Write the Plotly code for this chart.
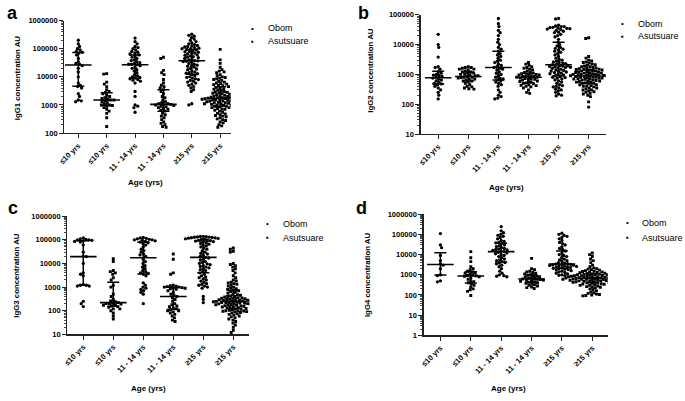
import numpy as np
import plotly.graph_objects as go

W, H = 685, 401

categories = ["≤10 yrs", "≤10 yrs", "11 - 14 yrs", "11 - 14 yrs", "≥15 yrs", "≥15 yrs"]
sites = ["Obom", "Asutsuare", "Obom", "Asutsuare", "Obom", "Asutsuare"]
legend_names = ["Obom", "Asutsuare"]

# ---------------- IgG1 ----------------
a1 = [200000, 150000, 120000, 100000, 90000, 80000, 75000, 70000, 60000, 45000, 35000, 30000, 28000,
      25000, 20000, 15000, 10000, 6000, 5000, 4500, 4000, 2500, 2000, 1500, 1400, 1300]
a2 = [13000, 12500, 6500, 5500, 4500, 3500, 3000, 2800, 2500, 2200, 2000, 1800, 1700, 1600, 1500, 1500,
      1400, 1300, 1200, 1100, 1000, 1000, 950, 900, 800, 700, 600, 500, 350, 170]
a3 = [240000, 180000, 150000, 120000, 110000, 100000, 90000, 80000, 75000, 70000, 65000, 60000, 55000,
      50000, 45000, 40000, 38000, 35000, 32000, 30000, 28000, 28000, 27000, 25000, 22000, 20000, 18000,
      16000, 14000, 12000, 11000, 10000, 9500, 9000, 8500, 8000, 7500, 7000, 6000, 3000, 2000, 1000, 900,
      800, 550]
a4 = [50000, 45000, 17000, 14000, 12000, 8000, 6000, 5000, 4500, 4000, 3500, 3000, 2500, 2000, 1800, 1500,
      1300, 1200, 1100, 1100, 1050, 1000, 1000, 950, 900, 850, 800, 750, 700, 650, 600, 500, 450, 400, 350,
      300, 250, 220, 200, 170, 160]
a5 = [330000, 300000, 280000, 250000, 220000, 200000, 180000, 160000, 150000, 140000, 130000, 125000,
      120000, 115000, 110000, 105000, 100000, 100000, 95000, 90000, 85000, 80000, 78000, 75000, 70000,
      68000, 65000, 60000, 58000, 55000, 52000, 50000, 48000, 45000, 42000, 40000, 38000, 37000, 36000,
      35000, 33000, 30000, 28000, 26000, 25000, 24000, 22000, 20000, 19000, 18000, 16000, 15000, 14000,
      13500, 13000, 12000, 11000, 10000, 9500, 9000, 8500, 8000, 7500, 7000, 6500, 6000, 5500, 5000, 4500,
      4000, 3500, 3000, 1100, 1000]
a6 = [95000, 40000, 30000, 22000, 18000, 16000, 15000, 14000, 12000, 11000, 10000, 9500, 9000, 8500, 8000,
      7500, 7000, 6500, 6000, 5800, 5500, 5300, 5000, 4800, 4500, 4200, 4000, 3800, 3600, 3400, 3200, 3000,
      2900, 2800, 2700, 2600, 2500, 2400, 2300, 2200, 2100, 2000, 2000, 1900, 1900, 1800, 1800, 1750, 1700,
      1700, 1650, 1600, 1600, 1550, 1500, 1500, 1450, 1400, 1400, 1350, 1300, 1300, 1250, 1200, 1200, 1150,
      1100, 1100, 1050, 1000, 1000, 950, 900, 900, 850, 800, 800, 750, 700, 700, 650, 600, 550, 500, 480,
      450, 420, 400, 380, 350, 320, 300, 280, 250, 230, 200, 180, 160]

# ---------------- IgG2 ----------------
b1 = [22000, 10000, 8000, 3800, 1800, 1700, 1500, 1200, 1100, 1000, 950, 900, 850, 800, 750, 700, 650, 600,
      550, 500, 480, 450, 400, 350, 300, 250, 200, 150]
b2 = [1800, 1700, 1700, 1600, 1500, 1500, 1400, 1300, 1200, 1200, 1100, 1100, 1000, 1000, 950, 900, 900,
      850, 800, 800, 780, 750, 700, 700, 650, 600, 600, 550, 500, 450, 400, 380, 350, 330, 320]
b3 = [75000, 50000, 40000, 30000, 25000, 20000, 15000, 12000, 10000, 8000, 7000, 6000, 5000, 4500, 4000,
      3500, 3000, 2800, 2500, 2200, 2000, 1800, 1700, 1600, 1500, 1400, 1200, 1100, 1000, 900, 800, 750, 700,
      650, 600, 550, 500, 450, 400, 300, 250, 200, 180, 160, 150]
b4 = [2500, 2200, 2000, 1800, 1700, 1600, 1500, 1400, 1300, 1200, 1150, 1100, 1050, 1000, 1000, 950, 950,
      900, 900, 850, 850, 800, 800, 780, 750, 720, 700, 680, 650, 620, 600, 580, 550, 520, 500, 480, 450, 430,
      420, 400, 380, 350, 300, 250, 230]
b5 = [75000, 72000, 45000, 42000, 40000, 40000, 38000, 37000, 36000, 35000, 34000, 33000, 32000, 30000,
      28000, 26000, 25000, 22000, 20000, 18000, 15000, 12000, 10000, 9000, 8000, 7500, 7000, 6500, 6000,
      5500, 5000, 4500, 4000, 3500, 3200, 3000, 2800, 2600, 2500, 2400, 2300, 2200, 2100, 2000, 1950, 1900,
      1850, 1800, 1750, 1700, 1650, 1600, 1500, 1400, 1350, 1300, 1250, 1200, 1150, 1100, 1050, 1000, 950,
      900, 850, 800, 780, 750, 700, 650, 600, 550, 500, 450, 420, 400, 380, 350, 320, 300, 280, 250, 220,
      200, 190]
b6 = [17000, 16000, 4000, 3500, 3000, 2800, 2600, 2500, 2400, 2200, 2100, 2000, 1900, 1800, 1800, 1700,
      1650, 1600, 1550, 1500, 1500, 1450, 1400, 1400, 1350, 1300, 1300, 1250, 1200, 1200, 1150, 1100, 1100,
      1100, 1050, 1000, 1000, 1000, 980, 950, 950, 920, 900, 900, 880, 850, 850, 820, 800, 800, 780, 750,
      750, 720, 700, 700, 680, 650, 650, 620, 600, 600, 580, 550, 550, 520, 500, 500, 480, 450, 450, 420,
      400, 400, 380, 350, 350, 320, 300, 300, 280, 260, 250, 230, 220, 200, 180, 120, 80]

# ---------------- IgG3 ----------------
c1 = [120000, 110000, 105000, 100000, 100000, 95000, 90000, 85000, 80000, 60000, 30000, 20000, 19500,
      10000, 4000, 3500, 3000, 1300, 1200, 1200, 1100, 1100, 250, 200, 150]
c2 = [16000, 12000, 5000, 4500, 4000, 3500, 2500, 2000, 1200, 1000, 500, 400, 300, 260, 240, 220, 210, 200,
      200, 190, 180, 170, 160, 150, 140, 120, 120, 100, 80, 60, 45]
c3 = [125000, 120000, 115000, 110000, 105000, 100000, 100000, 95000, 90000, 85000, 80000,
      75000, 70000, 60000, 50000, 40000, 35000, 30000, 25000, 23000, 20000, 15000, 12000, 10000, 8000, 7000,
      6000, 5000, 4500, 4000, 3800, 3500, 3000, 1500, 1200, 1000, 900, 800, 700, 600, 500, 200]
c4 = [25000, 15000, 4000, 3500, 1200, 1150, 1100, 1050, 1000, 1000, 950, 900, 900, 850, 800, 700, 600, 500,
      450, 400, 350, 300, 250, 200, 180, 160, 150, 130, 120, 110, 100, 100, 90, 80, 70, 60, 50, 40, 35]
c5 = [140000, 138000, 135000, 132000, 130000, 128000, 125000, 122000, 120000, 117000, 114000, 110000,
      107000, 104000, 100000, 96000, 92000, 88000, 84000, 80000, 75000, 70000, 65000, 60000, 55000, 50000,
      45000, 40000, 35000, 30000, 27000, 25000, 22000, 20000, 18000, 17000, 15000, 14000, 12000, 11000,
      10000, 9500, 9000, 8000, 7500, 7000, 6500, 6000, 5500, 5000, 4500, 4000, 3500, 3000, 2700, 2500, 2200,
      2000, 1800, 1600, 1400, 1300, 1200, 1100, 1000, 900, 400, 300, 220]
c6 = [45000, 40000, 33000, 30000, 10000, 9000, 8000, 7000, 6000, 5000, 4000, 3000, 2500, 2000, 1800, 1600,
      1500, 1400, 1300, 1200, 1100, 1000, 900, 850, 800, 750, 700, 650, 600, 550, 500, 480, 450, 420, 400,
      400, 380, 360, 350, 340, 330, 320, 310, 300, 300, 290, 280, 280, 270, 260, 260, 250, 250, 240, 240,
      230, 230, 220, 220, 210, 210, 200, 200, 195, 190, 185, 180, 175, 170, 165, 160, 155, 150, 145, 140,
      135, 130, 125, 120, 115, 110, 105, 100, 100, 98, 95, 92, 90, 85, 80, 75, 70, 65, 60, 55, 50, 45, 40,
      35, 30, 25, 20, 15, 12]

# ---------------- IgG4 ----------------
d1 = [110000, 30000, 22000, 9000, 5000, 3500, 3000, 2000, 1000, 900, 500, 450]
d2 = [14000, 7000, 4500, 2500, 2000, 1800, 1500, 1400, 1300, 1200, 1100, 1000, 950, 900, 850, 800, 700, 600,
      500, 450, 400, 350, 300, 250, 200, 180, 150, 95]
d3 = [240000, 150000, 120000, 100000, 90000, 80000, 70000, 60000, 50000, 45000, 40000, 38000, 35000, 30000,
      28000, 25000, 22000, 20000, 19000, 18000, 17000, 16000, 15000, 14000, 13000, 12000, 11000, 10000, 9000,
      8000, 7000, 6000, 5500, 5000, 4500, 4000, 3800, 3500, 3000, 2500, 2000, 1500, 1200, 1000, 900, 850, 800]
d4 = [6500, 2000, 1800, 1500, 1400, 1300, 1200, 1100, 1000, 950, 900, 850, 800, 750, 700, 680, 650, 620, 600,
      580, 550, 530, 500, 480, 450, 430, 400, 380, 350, 320, 300, 280, 250, 230, 210]
d5 = [115000, 100000, 90000, 80000, 70000, 60000, 50000, 40000, 35000, 30000, 25000, 20000, 18000, 15000,
      12000, 10000, 9000, 8000, 7000, 6000, 5500, 5000, 4500, 4000, 3800, 3600, 3400, 3300, 3200, 3100, 3000,
      2900, 2800, 2700, 2600, 2500, 2400, 2300, 2200, 2100, 2000, 1900, 1800, 1700, 1600, 1500, 1400, 1300,
      1200, 1100, 1000, 950, 900]
d6 = [12000, 10000, 8000, 6000, 5000, 4000, 3000, 2500, 2200, 2000, 1900, 1800, 1700, 1600, 1500, 1450,
      1400, 1350, 1300, 1250, 1200, 1150, 1100, 1100, 1050, 1000, 1000, 980, 950, 920, 900, 900, 880, 850,
      850, 820, 800, 800, 780, 760, 750, 740, 720, 700, 700, 690, 680, 660, 650, 650, 640, 620, 600, 600,
      590, 580, 560, 550, 550, 540, 520, 500, 500, 480, 470, 450, 450, 430, 420, 400, 400, 380, 360, 350,
      340, 320, 300, 300, 280, 260, 250, 240, 220, 200, 180, 160, 140, 130, 120, 110, 105, 100, 95, 90]

panels = [
    dict(groups=[a1, a2, a3, a4, a5, a6], ytitle="IgG1 concentration AU", letter="a",
         xd=(58, 226), yd=(17, 132), xr=(-0.49, 5.37), yr=(2, 6),
         letter_xy=(6, 9), ytitle_xy=(10, 75), xtitle_xy=(140, 183), leg=(248, 262, 25, 38)),
    dict(groups=[b1, b2, b3, b4, b5, b6], ytitle="IgG2 concentration AU", letter="b",
         xd=(418, 605), yd=(11, 133), xr=(-0.58, 5.57), yr=(1, 5),
         letter_xy=(360, 9), ytitle_xy=(367, 68), xtitle_xy=(505, 188), leg=(622, 635, 20, 33)),
    dict(groups=[c1, c2, c3, c4, c5, c6], ytitle="IgG3 concentration AU", letter="c",
         xd=(61, 245), yd=(217, 338), xr=(-0.53, 5.54), yr=(1, 6),
         letter_xy=(6, 209), ytitle_xy=(10, 277), xtitle_xy=(143, 393), leg=(263, 277, 225, 239)),
    dict(groups=[d1, d2, d3, d4, d5, d6], ytitle="IgG4 concentration AU", letter="d",
         xd=(421, 607), yd=(215, 339), xr=(-0.55, 5.51), yr=(0, 6),
         letter_xy=(358, 209), ytitle_xy=(365, 277), xtitle_xy=(507, 393), leg=(627, 640, 224, 239)),
]


def px(sx):
    return sx / W


def py(sy):
    return 1 - sy / H


FONT = "Liberation Sans, Arial, sans-serif"
fig = go.Figure()
layout = dict(width=W, height=H, margin=dict(l=0, r=0, t=0, b=0), autosize=False, showlegend=False,
              paper_bgcolor="white", plot_bgcolor="white", annotations=[], hovermode=False,
              font=dict(family=FONT, color="black"))

DIAM = 3.0  # px collision diameter for the swarm


def swarm(vals, center, ppd, ppc, lo):
    ypx = (np.log10(np.asarray(vals, dtype=float)) - lo) * ppd
    order = np.argsort(-ypx, kind="stable")
    placed = []
    xs = np.zeros(len(vals))
    for j, i in enumerate(order):
        y = ypx[i]
        near = [(qx, qy) for qx, qy in placed if abs(qy - y) < DIAM]
        best = 0.0
        for m in range(0, 400):
            cands = [0.0] if m == 0 else ([m * 0.3, -m * 0.3] if j % 2 == 0 else [-m * 0.3, m * 0.3])
            ok = None
            for x in cands:
                if all((x - qx) ** 2 + (y - qy) ** 2 >= DIAM * DIAM for qx, qy in near):
                    ok = x
                    break
            if ok is not None:
                best = ok
                break
        placed.append((best, y))
        xs[i] = center + best / ppc
    return xs


for pi, p in enumerate(panels):
    k = "" if pi == 0 else str(pi + 1)
    xa, ya = "x" + k, "y" + k
    ppd = (p["yd"][1] - p["yd"][0]) / (p["yr"][1] - p["yr"][0])
    ppc = (p["xd"][1] - p["xd"][0]) / (p["xr"][1] - p["xr"][0])
    for gi, vals in enumerate(p["groups"]):
        site = sites[gi]
        xs = swarm(vals, gi, ppd, ppc, p["yr"][0])
        fig.add_trace(go.Scatter(
            x=xs, y=vals, mode="markers", xaxis=xa, yaxis=ya, name=site,
            marker=dict(symbol="circle" if site == "Obom" else "square",
                        size=3.3 if site == "Obom" else 2.9, color="black", line=dict(width=0))))
        q1, med, q3 = np.percentile(vals, [25, 50, 75])
        fig.add_trace(go.Scatter(
            x=[gi], y=[med], mode="markers", xaxis=xa, yaxis=ya,
            marker=dict(symbol="line-ew", size=19, line=dict(width=1.6, color="black")),
            error_y=dict(type="data", symmetric=False, array=[q3 - med], arrayminus=[med - q1],
                         width=6, thickness=1.5, color="black")))
    x0, x1 = p["xd"]
    ytop, ybot = p["yd"]
    layout["xaxis" + k] = dict(
        domain=[px(x0), px(x1)], range=list(p["xr"]), anchor=ya,
        tickmode="array", tickvals=list(range(6)), ticktext=categories,
        tickangle=-45, ticks="outside", ticklen=4, tickwidth=1, tickcolor="#222",
        showline=True, linecolor="#222", linewidth=1.3, showgrid=False, zeroline=False,
        tickfont=dict(family=FONT, size=7.5, color="black", weight="bold"))
    tv = [10 ** e for e in range(p["yr"][0], p["yr"][1] + 1)]
    layout["yaxis" + k] = dict(
        domain=[py(ybot), py(ytop)], type="log", range=list(p["yr"]), anchor=xa,
        tickmode="array", tickvals=tv, ticktext=[str(v) for v in tv],
        ticks="outside", ticklen=4, tickwidth=1, tickcolor="#222",
        minor=dict(ticks="outside", ticklen=2, tickwidth=0.8, tickcolor="#222", dtick="D1", showgrid=False),
        showline=True, linecolor="#222", linewidth=1.3, showgrid=False, zeroline=False,
        tickfont=dict(family=FONT, size=7.5, color="black", weight="bold"))
    lx, ly = p["letter_xy"]
    layout["annotations"].append(dict(
        text="<b>%s</b>" % p["letter"], x=px(lx), y=py(ly), xref="paper", yref="paper",
        showarrow=False, font=dict(family=FONT, size=18, color="black"), xanchor="center", yanchor="middle"))
    tx, ty = p["ytitle_xy"]
    layout["annotations"].append(dict(
        text="<b>%s</b>" % p["ytitle"], x=px(tx), y=py(ty), xref="paper", yref="paper",
        showarrow=False, textangle=-90, font=dict(family=FONT, size=7.8, color="black"),
        xanchor="center", yanchor="middle"))
    ax, ay = p["xtitle_xy"]
    layout["annotations"].append(dict(
        text="<b>Age (yrs)</b>", x=px(ax), y=py(ay), xref="paper", yref="paper",
        showarrow=False, font=dict(family=FONT, size=8, color="black"),
        xanchor="center", yanchor="middle"))
    mx, tx0, y_ob, y_as = p["leg"]
    for name, sym, yy in [(legend_names[0], "•", y_ob), (legend_names[1], "▪", y_as)]:
        layout["annotations"].append(dict(
            text=sym, x=px(mx), y=py(yy), xref="paper", yref="paper", showarrow=False,
            font=dict(family=FONT, size=8, color="black"), xanchor="center", yanchor="middle"))
        layout["annotations"].append(dict(
            text=name, x=px(tx0), y=py(yy), xref="paper", yref="paper", showarrow=False,
            font=dict(family=FONT, size=9, color="black"), xanchor="left", yanchor="middle"))

fig.update_layout(**layout)
# remove the browser's default 8px body margin so the figure fills the window exactly
fig.write_html("out.html", config={"displayModeBar": False, "staticPlot": True},
               post_script="document.body.style.margin='0px';")
